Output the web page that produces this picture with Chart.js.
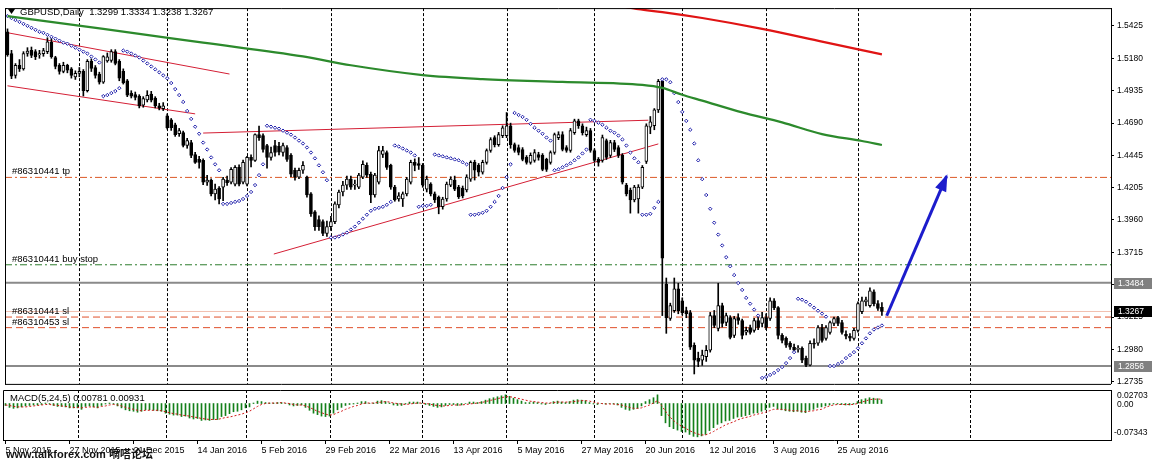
<!DOCTYPE html>
<html>
<head>
<meta charset="utf-8">
<script src="https://cdn.jsdelivr.net/npm/chart.js@4.4.1/dist/chart.umd.min.js"></script>
<style>
  html, body { margin: 0; padding: 0; background: #fff; }
  #wrap { position: relative; width: 1154px; height: 463px; overflow: hidden; background: #fff; }
  #main { position: absolute; left: 0; top: 0; }
  #macd { position: absolute; left: 0; top: 388px; }
</style>
</head>
<body>
<div id="wrap">
  <canvas id="main" width="1154" height="392"></canvas>
  <canvas id="macd" width="1154" height="75"></canvas>
</div>
<script>
// GBPUSD Daily, 5 Nov 2015 - 9 Sep 2016 (one bar per trading day, index 0..219)

const tickBars = [0, 16, 32, 48, 64, 80, 96, 112, 128, 144, 160, 176, 192, 208];
const tickLabels = ["5 Nov 2015", "27 Nov 2015", "21 Dec 2015", "14 Jan 2016", "5 Feb 2016", "29 Feb 2016",
  "22 Mar 2016", "13 Apr 2016", "5 May 2016", "27 May 2016", "20 Jun 2016", "12 Jul 2016", "3 Aug 2016", "25 Aug 2016"];
// first bar of each month (vertical grid)
const monthStartBars = [18, 40, 60, 81, 104, 125, 147, 169, 190, 213, 241];

const opens = [
  1.5380,1.5216,1.5051,1.5126,1.5100,1.5216,1.5240,1.5230,1.5205,1.5215,
  1.5230,1.5300,1.5186,1.5126,1.5081,1.5126,1.5100,1.5040,1.5066,1.5081,
  1.4935,1.5156,1.5110,1.5060,1.5000,1.5160,1.5163,1.5230,1.5156,1.5081,
  1.5010,1.4917,1.4905,1.4894,1.4825,1.4865,1.4910,1.4879,1.4820,1.4800,
  1.4745,1.4715,1.4678,1.4610,1.4618,1.4521,1.4543,1.4453,1.4416,1.4409,
  1.4244,1.4259,1.4155,1.4200,1.4207,1.4259,1.4244,1.4229,1.4356,1.4244,
  1.4229,1.4431,1.4409,1.4603,1.4596,1.4521,1.4431,1.4521,1.4515,1.4468,
  1.4506,1.4446,1.4334,1.4282,1.4334,1.4282,1.4155,1.4020,1.3961,1.3946,
  1.3856,1.3908,1.3946,1.4073,1.4170,1.4222,1.4267,1.4222,1.4207,1.4282,
  1.4371,1.4304,1.4147,1.4244,1.4453,1.4468,1.4371,1.4207,1.4117,1.4117,
  1.4155,1.4244,1.4394,1.4385,1.4371,1.4192,1.4229,1.4155,1.4132,1.4058,
  1.4117,1.4222,1.4259,1.4207,1.4200,1.4185,1.4267,1.4394,1.4371,1.4319,
  1.4394,1.4483,1.4581,1.4528,1.4596,1.4596,1.4670,1.4528,1.4506,1.4491,
  1.4431,1.4394,1.4409,1.4453,1.4446,1.4416,1.4394,1.4468,1.4581,1.4603,
  1.4506,1.4483,1.4618,1.4708,1.4670,1.4603,1.4633,1.4483,1.4416,1.4409,
  1.4558,1.4446,1.4543,1.4506,1.4446,1.4222,1.4185,1.4110,1.4117,1.4207,
  1.4400,1.4660,1.4670,1.4790,1.5006,1.3475,1.3214,1.3273,1.3438,1.3348,
  1.3273,1.3258,1.3012,1.2915,1.2900,1.2925,1.2974,1.3236,1.3140,1.3311,
  1.3184,1.3221,1.3087,1.3221,1.3199,1.3110,1.3146,1.3124,1.3199,1.3176,
  1.3221,1.3214,1.3348,1.3296,1.3087,1.3064,1.3027,1.2997,1.2980,1.2989,
  1.2915,1.2862,1.3027,1.3027,1.3146,1.3064,1.3109,1.3176,1.3221,1.3184,
  1.3095,1.3080,1.3064,1.3124,1.3265,1.3340,1.3311,1.3415,1.3326,1.3299
];
const highs = [
  1.5402,1.5240,1.5140,1.5170,1.5230,1.5260,1.5265,1.5245,1.5240,1.5255,
  1.5335,1.5330,1.5195,1.5140,1.5150,1.5135,1.5110,1.5085,1.5110,1.5095,
  1.5170,1.5175,1.5125,1.5075,1.5200,1.5220,1.5245,1.5245,1.5170,1.5100,
  1.5020,1.4935,1.4925,1.4905,1.4890,1.4935,1.4930,1.4890,1.4840,1.4845,
  1.4760,1.4725,1.4690,1.4650,1.4630,1.4575,1.4560,1.4470,1.4440,1.4420,
  1.4295,1.4270,1.4230,1.4210,1.4280,1.4290,1.4355,1.4370,1.4375,1.4410,
  1.4440,1.4450,1.4610,1.4668,1.4610,1.4530,1.4510,1.4560,1.4545,1.4540,
  1.4520,1.4460,1.4350,1.4350,1.4400,1.4290,1.4165,1.4030,1.3990,1.3960,
  1.3950,1.3985,1.4095,1.4185,1.4250,1.4290,1.4290,1.4260,1.4310,1.4405,
  1.4390,1.4320,1.4310,1.4515,1.4515,1.4480,1.4380,1.4220,1.4165,1.4170,
  1.4280,1.4410,1.4420,1.4430,1.4385,1.4290,1.4240,1.4170,1.4140,1.4130,
  1.4245,1.4285,1.4290,1.4220,1.4215,1.4300,1.4405,1.4410,1.4385,1.4410,
  1.4495,1.4580,1.4595,1.4620,1.4670,1.4770,1.4690,1.4540,1.4525,1.4505,
  1.4445,1.4465,1.4490,1.4470,1.4460,1.4425,1.4480,1.4615,1.4625,1.4625,
  1.4520,1.4650,1.4720,1.4720,1.4685,1.4660,1.4650,1.4495,1.4430,1.4600,
  1.4570,1.4560,1.4560,1.4520,1.4460,1.4235,1.4200,1.4220,1.4225,1.4370,
  1.4685,1.4740,1.4800,1.5020,1.5010,1.3520,1.3330,1.3520,1.3480,1.3370,
  1.3300,1.3275,1.3030,1.2960,1.2975,1.3010,1.3260,1.3275,1.3480,1.3330,
  1.3255,1.3235,1.3230,1.3250,1.3210,1.3150,1.3165,1.3215,1.3225,1.3260,
  1.3250,1.3370,1.3365,1.3305,1.3100,1.3075,1.3040,1.3020,1.3010,1.3000,
  1.2930,1.3045,1.3060,1.3160,1.3170,1.3160,1.3195,1.3225,1.3230,1.3200,
  1.3120,1.3100,1.3140,1.3340,1.3375,1.3375,1.3445,1.3430,1.3350,1.3334
];
const lows = [
  1.5195,1.5026,1.5030,1.5080,1.5090,1.5195,1.5185,1.5170,1.5180,1.5195,
  1.5215,1.5180,1.5100,1.5060,1.5070,1.5070,1.5030,1.5020,1.5040,1.4895,
  1.4925,1.5080,1.5030,1.4985,1.4990,1.5150,1.5150,1.5130,1.5010,1.4985,
  1.4890,1.4880,1.4865,1.4805,1.4810,1.4850,1.4850,1.4805,1.4790,1.4785,
  1.4645,1.4635,1.4590,1.4590,1.4510,1.4500,1.4430,1.4385,1.4350,1.4225,
  1.4220,1.4140,1.4110,1.4080,1.4105,1.4220,1.4230,1.4215,1.4215,1.4230,
  1.4215,1.4360,1.4400,1.4560,1.4470,1.4350,1.4410,1.4440,1.4450,1.4440,
  1.4400,1.4285,1.4260,1.4270,1.4310,1.4130,1.3985,1.3880,1.3880,1.3840,
  1.3835,1.3880,1.3930,1.4050,1.4140,1.4190,1.4190,1.4190,1.4195,1.4270,
  1.4280,1.4090,1.4130,1.4230,1.4430,1.4340,1.4190,1.4100,1.4100,1.4060,
  1.4140,1.4230,1.4330,1.4340,1.4205,1.4170,1.4140,1.4090,1.4005,1.4040,
  1.4100,1.4210,1.4180,1.4120,1.4125,1.4170,1.4250,1.4260,1.4290,1.4305,
  1.4380,1.4470,1.4510,1.4515,1.4580,1.4580,1.4500,1.4470,1.4450,1.4405,
  1.4380,1.4380,1.4395,1.4410,1.4330,1.4325,1.4380,1.4455,1.4565,1.4480,
  1.4470,1.4470,1.4605,1.4650,1.4600,1.4590,1.4470,1.4395,1.4365,1.4395,
  1.4415,1.4430,1.4475,1.4430,1.4230,1.4140,1.4010,1.4095,1.4010,1.4195,
  1.4385,1.4610,1.4640,1.4770,1.3236,1.3102,1.3200,1.3260,1.3250,1.3240,
  1.3220,1.2980,1.2795,1.2850,1.2860,1.2890,1.2960,1.3145,1.3120,1.3150,
  1.3160,1.3060,1.3070,1.3170,1.3060,1.3090,1.3095,1.3110,1.3130,1.3150,
  1.3130,1.3200,1.3280,1.3060,1.3030,1.2995,1.2980,1.2960,1.2960,1.2880,
  1.2850,1.2855,1.2990,1.3010,1.3035,1.3050,1.3095,1.3160,1.3160,1.3095,
  1.3060,1.3045,1.3050,1.3110,1.3250,1.3310,1.3300,1.3310,1.3275,1.3238
];
const closes = [
  1.5208,1.5044,1.5126,1.5100,1.5216,1.5235,1.5201,1.5193,1.5215,1.5238,
  1.5305,1.5193,1.5118,1.5081,1.5126,1.5090,1.5051,1.5066,1.5081,1.4935,
  1.5156,1.5103,1.5051,1.5000,1.5193,1.5190,1.5230,1.5141,1.5029,1.4993,
  1.4902,1.4894,1.4885,1.4820,1.4875,1.4900,1.4864,1.4820,1.4805,1.4820,
  1.4655,1.4655,1.4603,1.4633,1.4521,1.4558,1.4446,1.4394,1.4394,1.4244,
  1.4259,1.4155,1.4192,1.4117,1.4267,1.4240,1.4341,1.4356,1.4229,1.4394,
  1.4431,1.4409,1.4603,1.4581,1.4491,1.4431,1.4468,1.4468,1.4470,1.4521,
  1.4416,1.4304,1.4282,1.4334,1.4371,1.4147,1.4005,1.3908,1.3908,1.3856,
  1.3908,1.3946,1.4080,1.4170,1.4222,1.4267,1.4207,1.4229,1.4297,1.4379,
  1.4297,1.4147,1.4297,1.4483,1.4483,1.4356,1.4207,1.4110,1.4140,1.4155,
  1.4267,1.4394,1.4371,1.4371,1.4222,1.4267,1.4155,1.4110,1.4058,1.4117,
  1.4229,1.4267,1.4192,1.4132,1.4140,1.4282,1.4394,1.4334,1.4319,1.4394,
  1.4483,1.4566,1.4528,1.4603,1.4655,1.4670,1.4528,1.4483,1.4468,1.4416,
  1.4394,1.4446,1.4468,1.4431,1.4341,1.4341,1.4468,1.4603,1.4603,1.4491,
  1.4483,1.4633,1.4708,1.4670,1.4618,1.4633,1.4483,1.4409,1.4394,1.4581,
  1.4431,1.4543,1.4491,1.4446,1.4244,1.4155,1.4110,1.4207,1.4207,1.4356,
  1.4670,1.4700,1.4790,1.5006,1.3669,1.3221,1.3311,1.3438,1.3273,1.3258,
  1.3251,1.2997,1.2900,1.2890,1.2937,1.2974,1.3236,1.3161,1.3311,1.3176,
  1.3236,1.3072,1.3214,1.3199,1.3087,1.3124,1.3109,1.3199,1.3146,1.3221,
  1.3146,1.3348,1.3296,1.3087,1.3049,1.3012,1.2997,1.2974,1.2990,1.2900,
  1.2862,1.3027,1.3020,1.3146,1.3049,1.3146,1.3184,1.3214,1.3176,1.3109,
  1.3080,1.3065,1.3124,1.3326,1.3348,1.3355,1.3423,1.3326,1.3290,1.3267
];

// Parabolic SAR, one value per bar
const sar = [
  1.5499,1.5484,1.5469,1.5455,1.5440,1.5425,1.5410,1.5395,1.5380,1.5372,
  1.5357,1.5342,1.5328,1.5313,1.5298,1.5290,1.5275,1.5260,1.5245,1.5230,
  1.5216,1.5193,1.5171,1.5148,1.4894,1.4902,1.4917,1.4932,1.4954,1.5238,
  1.5230,1.5216,1.5201,1.5186,1.5163,1.5141,1.5118,1.5096,1.5074,1.5051,
  1.5029,1.4993,1.4947,1.4902,1.4850,1.4782,1.4722,1.4663,1.4610,1.4543,
  1.4491,1.4431,1.4379,1.4334,1.4080,1.4080,1.4087,1.4095,1.4102,1.4117,
  1.4140,1.4170,1.4222,1.4297,1.4379,1.4670,1.4663,1.4655,1.4648,1.4633,
  1.4618,1.4603,1.4581,1.4558,1.4536,1.4506,1.4468,1.4424,1.4371,1.4319,
  1.4259,1.3826,1.3826,1.3834,1.3849,1.3863,1.3886,1.3908,1.3938,1.3968,
  1.3998,1.4028,1.4043,1.4050,1.4058,1.4073,1.4095,1.4521,1.4513,1.4498,
  1.4483,1.4468,1.4446,1.4058,1.4065,1.4065,1.4073,1.4453,1.4446,1.4439,
  1.4431,1.4424,1.4416,1.4409,1.4394,1.4379,1.3998,1.3998,1.4005,1.4013,
  1.4028,1.4058,1.4095,1.4140,1.4200,1.4282,1.4379,1.4767,1.4752,1.4737,
  1.4715,1.4685,1.4655,1.4633,1.4610,1.4581,1.4558,1.4334,1.4341,1.4356,
  1.4371,1.4386,1.4409,1.4431,1.4461,1.4491,1.4715,1.4707,1.4693,1.4678,
  1.4655,1.4633,1.4618,1.4596,1.4566,1.4521,1.4468,1.4424,1.4394,1.3998,
  1.3998,1.4005,1.4050,1.4095,1.5021,1.5021,1.4999,1.4917,1.4849,1.4775,
  1.4707,1.4640,1.4536,1.4409,1.4267,1.4147,1.4043,1.3938,1.3848,1.3766,
  1.3677,1.3609,1.3542,1.3482,1.3430,1.3370,1.3326,1.3281,1.3236,1.2765,
  1.2773,1.2788,1.2803,1.2825,1.2847,1.2877,1.2915,1.2960,1.3363,1.3356,
  1.3341,1.3318,1.3296,1.3273,1.3251,1.3228,1.2855,1.2855,1.2870,1.2885,
  1.2915,1.2937,1.2960,1.2989,1.3027,1.3064,1.3102,1.3131,1.3146,1.3161
];

// MACD(5,24,5): main (histogram) and signal
const macdMain = [
  -0.004,-0.008,-0.010,-0.009,-0.007,-0.005,-0.004,-0.003,-0.003,-0.002,
  0.001,-0.001,-0.004,-0.006,-0.006,-0.007,-0.009,-0.009,-0.009,-0.012,
  -0.006,-0.005,-0.007,-0.009,-0.004,-0.001,0.001,-0.001,-0.005,-0.009,
  -0.013,-0.015,-0.016,-0.018,-0.016,-0.013,-0.013,-0.014,-0.015,-0.016,
  -0.020,-0.022,-0.024,-0.024,-0.027,-0.026,-0.030,-0.032,-0.031,-0.035,
  -0.034,-0.035,-0.033,-0.033,-0.027,-0.025,-0.021,-0.017,-0.016,-0.013,
  -0.009,-0.007,0.001,0.005,0.004,0.002,0.001,0.001,0.002,0.002,
  0.000,-0.003,-0.005,-0.004,-0.003,-0.008,-0.014,-0.020,-0.023,-0.026,
  -0.027,-0.026,-0.020,-0.013,-0.008,-0.004,-0.002,-0.001,0.001,0.004,
  0.004,0.000,0.001,0.005,0.006,0.004,0.001,-0.003,-0.004,-0.004,
  -0.001,0.003,0.003,0.003,0.000,-0.002,-0.004,-0.006,-0.008,-0.007,
  -0.004,-0.002,-0.002,-0.004,-0.003,0.000,0.003,0.003,0.002,0.004,
  0.007,0.010,0.012,0.014,0.016,0.018,0.015,0.011,0.008,0.005,
  0.002,0.002,0.003,0.002,-0.001,-0.002,0.000,0.004,0.005,0.003,
  0.002,0.004,0.007,0.008,0.007,0.006,0.002,-0.001,-0.002,0.000,
  -0.001,0.000,-0.001,-0.003,-0.008,-0.012,-0.014,-0.012,-0.010,-0.005,
  0.004,0.008,0.012,0.018,-0.025,-0.040,-0.048,-0.052,-0.055,-0.058,
  -0.059,-0.064,-0.068,-0.069,-0.067,-0.064,-0.056,-0.050,-0.043,-0.040,
  -0.036,-0.035,-0.031,-0.028,-0.027,-0.025,-0.023,-0.020,-0.019,-0.016,
  -0.013,-0.008,-0.006,-0.011,-0.013,-0.015,-0.016,-0.017,-0.016,-0.018,
  -0.019,-0.014,-0.012,-0.008,-0.007,-0.005,-0.003,-0.001,-0.001,-0.002,
  -0.003,-0.003,-0.001,0.004,0.008,0.010,0.012,0.011,0.010,0.0078
];
const macdSignal = [
  -0.003,-0.004,-0.006,-0.007,-0.007,-0.007,-0.006,-0.005,-0.004,-0.003,
  -0.002,-0.002,-0.003,-0.004,-0.005,-0.006,-0.007,-0.008,-0.008,-0.009,
  -0.008,-0.007,-0.007,-0.008,-0.006,-0.005,-0.003,-0.002,-0.003,-0.005,
  -0.008,-0.010,-0.012,-0.014,-0.015,-0.014,-0.014,-0.014,-0.014,-0.015,
  -0.017,-0.019,-0.021,-0.022,-0.024,-0.025,-0.026,-0.028,-0.029,-0.031,
  -0.032,-0.033,-0.033,-0.033,-0.031,-0.029,-0.028,-0.026,-0.024,-0.022,
  -0.019,-0.016,-0.011,-0.006,-0.002,0.000,0.001,0.001,0.001,0.002,
  0.001,0.000,-0.002,-0.003,-0.003,-0.005,-0.008,-0.012,-0.016,-0.019,
  -0.022,-0.024,-0.023,-0.019,-0.016,-0.012,-0.009,-0.006,-0.004,-0.001,
  0.001,0.001,0.001,0.002,0.003,0.004,0.003,0.001,0.000,-0.001,
  -0.002,-0.001,0.000,0.001,0.001,0.000,-0.001,-0.003,-0.004,-0.005,
  -0.005,-0.004,-0.003,-0.003,-0.003,-0.002,-0.001,0.000,0.001,0.002,
  0.004,0.006,0.008,0.010,0.012,0.014,0.014,0.013,0.011,0.009,
  0.007,0.005,0.004,0.003,0.002,0.001,0.001,0.002,0.003,0.003,
  0.003,0.003,0.004,0.005,0.006,0.006,0.005,0.003,0.001,0.000,
  -0.001,-0.001,-0.001,-0.002,-0.003,-0.006,-0.008,-0.010,-0.010,-0.009,
  -0.006,-0.003,0.001,0.006,-0.004,-0.016,-0.027,-0.035,-0.042,-0.047,
  -0.051,-0.056,-0.060,-0.063,-0.065,-0.065,-0.062,-0.058,-0.053,-0.049,
  -0.044,-0.041,-0.038,-0.034,-0.031,-0.029,-0.027,-0.024,-0.022,-0.020,
  -0.018,-0.015,-0.012,-0.012,-0.012,-0.013,-0.014,-0.015,-0.015,-0.016,
  -0.017,-0.016,-0.015,-0.013,-0.012,-0.008,-0.005,-0.003,-0.002,-0.002,
  -0.002,-0.002,-0.002,0.000,0.003,0.005,0.008,0.009,0.009,0.0093
];

// moving averages (bar index, value)
const greenMaBars = [0, 24, 49, 74, 86, 104, 119, 139, 159, 164, 169, 174, 184, 194, 204, 214, 219];
const greenMaValues = [1.5499, 1.5402, 1.5298, 1.5194, 1.5127, 1.5053, 1.5023, 1.5001, 1.4979, 1.4956,
  1.4904, 1.4860, 1.4771, 1.4696, 1.4607, 1.4555, 1.4525];
const redMaBars = [154, 158, 164, 174, 189, 204, 219];
const redMaValues = [1.5572, 1.5551, 1.5529, 1.5484, 1.5402, 1.5306, 1.5209];

// trend lines: [barA, priceA, barB, priceB]
const trendLines = [
  [0, 1.5373, 55.6, 1.5061],
  [0, 1.4972, 47, 1.4760],
  [49, 1.4615, 160.5, 1.4712],
  [66.7, 1.3701, 163, 1.4533]
];
const arrowFrom = [220.2, 1.3235];
const arrowTo = [235.2, 1.4290];

// order levels
const tpLevel = 1.4280, buyStopLevel = 1.3620, bidLevel = 1.3267;
const slLevels = [1.3225, 1.3145];
const grayLevels = [1.3484, 1.2856];
const priceTicks = [1.5425, 1.5180, 1.4935, 1.4690, 1.4445, 1.4205, 1.3960, 1.3715, 1.3470, 1.3225, 1.2980, 1.2735];
const macdLabels = ["0.02703", "0.00", "-0.07343"];

const FONT = "'Liberation Sans', Arial, sans-serif";
const X_MIN = -0.625, X_MAX = 276.375;
const P_MIN = 1.2720, P_MAX = 1.5559;
const M_MIN = -0.0755, M_MAX = 0.028;

function hline(v, color, dash, width) {
  return { type: "line", data: [{ x: X_MIN, y: v }, { x: X_MAX, y: v }], borderColor: color,
    borderWidth: width || 1, borderDash: dash || [], pointRadius: 0, order: 10 };
}

function vGrid(chart) {
  const { ctx, chartArea, scales } = chart;
  ctx.save();
  ctx.strokeStyle = "#000";
  ctx.lineWidth = 1;
  ctx.setLineDash([3, 2]);
  monthStartBars.forEach(b => {
    const x = Math.round(scales.x.getPixelForValue(b)) + 0.5;
    ctx.beginPath();
    ctx.moveTo(x, chartArea.top);
    ctx.lineTo(x, chartArea.bottom);
    ctx.stroke();
  });
  ctx.restore();
}

const mainDecor = {
  id: "mainDecor",
  beforeDatasetsDraw(chart) { vGrid(chart); },
  afterDatasetsDraw(chart) {
    const { ctx, scales } = chart;
    const xs = scales.x, ys = scales.y;
    // arrow head
    const x0 = xs.getPixelForValue(arrowFrom[0]), y0 = ys.getPixelForValue(arrowFrom[1]);
    const x1 = xs.getPixelForValue(arrowTo[0]), y1 = ys.getPixelForValue(arrowTo[1]);
    const a = Math.atan2(y1 - y0, x1 - x0);
    ctx.save();
    ctx.fillStyle = "#1c1ccc";
    ctx.beginPath();
    ctx.moveTo(x1 + 2 * Math.cos(a), y1 + 2 * Math.sin(a));
    ctx.lineTo(x1 - 15 * Math.cos(a) + 6 * Math.sin(a), y1 - 15 * Math.sin(a) - 6 * Math.cos(a));
    ctx.lineTo(x1 - 15 * Math.cos(a) - 6 * Math.sin(a), y1 - 15 * Math.sin(a) + 6 * Math.cos(a));
    ctx.closePath();
    ctx.fill();

    // level captions
    ctx.fillStyle = "#000";
    ctx.font = "9.5px " + FONT;
    ctx.textBaseline = "bottom";
    ctx.fillText("#86310441 tp", 12, ys.getPixelForValue(tpLevel) - 1);
    ctx.fillText("#86310441 buy stop", 12, ys.getPixelForValue(buyStopLevel) - 1);
    ctx.fillText("#86310441 sl", 12, ys.getPixelForValue(slLevels[0]) - 1);
    ctx.fillText("#86310453 sl", 12, ys.getPixelForValue(slLevels[1]) - 1);

    // header
    ctx.textBaseline = "middle";
    ctx.fillText("GBPUSD,Daily  1.3299 1.3334 1.3238 1.3267", 20, 12);
    ctx.beginPath();
    ctx.moveTo(8, 9); ctx.lineTo(15, 9); ctx.lineTo(11.5, 14); ctx.closePath();
    ctx.fill();
    ctx.fillRect(5, 8, 2, 1);
    ctx.restore();
  },
  afterDraw(chart) {
    const { ctx, chartArea, scales } = chart;
    ctx.save();
    ctx.strokeStyle = "#000";
    ctx.lineWidth = 1;
    ctx.beginPath();
    ctx.moveTo(chartArea.left + 0.5, chartArea.bottom + 0.5);
    ctx.lineTo(chartArea.left + 0.5, chartArea.top + 0.5);
    ctx.lineTo(chartArea.right, chartArea.top + 0.5);
    ctx.moveTo(chartArea.left, chartArea.bottom + 0.5);
    ctx.lineTo(chartArea.right, chartArea.bottom + 0.5);
    ctx.stroke();
    // price boxes on the axis
    const boxes = [[grayLevels[0], "#808080"], [bidLevel, "#000000"], [grayLevels[1], "#808080"]];
    ctx.font = "8.5px " + FONT;
    ctx.textBaseline = "middle";
    boxes.forEach(([v, c]) => {
      const y = Math.round(scales.y.getPixelForValue(v));
      ctx.fillStyle = c;
      ctx.fillRect(1114, y - 5, 38, 11);
      ctx.fillStyle = "#fff";
      ctx.fillText(v.toFixed(4), 1118, y + 0.5);
    });
    ctx.restore();
  }
};

const macdDecor = {
  id: "macdDecor",
  beforeDatasetsDraw(chart) { vGrid(chart); },
  afterDraw(chart) {
    const { ctx, chartArea, scales } = chart;
    ctx.save();
    ctx.strokeStyle = "#000";
    ctx.lineWidth = 1;
    ctx.beginPath();
    ctx.moveTo(chartArea.left + 0.5, chartArea.bottom);
    ctx.lineTo(chartArea.left + 0.5, chartArea.top + 0.5);
    ctx.lineTo(chartArea.right, chartArea.top + 0.5);
    ctx.stroke();
    ctx.fillStyle = "#000";
    ctx.font = "9.5px " + FONT;
    ctx.textBaseline = "middle";
    ctx.fillText("MACD(5,24,5) 0.00781 0.00931", 10, chartArea.top + 8);
    ctx.font = "8.5px " + FONT;
    ctx.fillText(macdLabels[0], 1117, chartArea.top + 6);
    ctx.fillText(macdLabels[1], 1117, scales.y.getPixelForValue(0) + 1);
    ctx.fillText(macdLabels[2], 1114, chartArea.bottom - 7);
    // watermark
    ctx.font = "bold 11px 'Liberation Sans', 'Noto Sans CJK SC', sans-serif";
    ctx.fillStyle = "#111";
    ctx.fillText("www.talkforex.com 嘀嗒论坛", 6, 67);
    ctx.restore();
  }
};

// ---------- main price chart ----------
const bodyColors = closes.map((c, i) => (c >= opens[i] ? "#ffffff" : "#000000"));

new Chart(document.getElementById("main"), {
  type: "bar",
  data: {
    datasets: [
      { type: "line", data: sar.map((v, i) => ({ x: i, y: v })), showLine: false, pointStyle: "rectRot",
        pointRadius: 1.7, pointBorderWidth: 1, pointBorderColor: "#1e1eaa", pointBackgroundColor: "#ffffff", order: 3 },
      { data: opens.map((o, i) => ({ x: i, y: [Math.min(o, closes[i]), Math.max(o, closes[i])] })),
        backgroundColor: bodyColors, borderColor: "#000", borderWidth: 1, borderSkipped: false,
        barThickness: 3, minBarLength: 1, grouped: false, order: 4 },
      { data: lows.map((l, i) => ({ x: i, y: [l, highs[i]] })), backgroundColor: "#000",
        barThickness: 1, grouped: false, order: 5 },
      { type: "line", data: greenMaBars.map((b, k) => ({ x: b, y: greenMaValues[k] })), borderColor: "#2c8a2c",
        borderWidth: 2.2, pointRadius: 0, cubicInterpolationMode: "monotone", order: 2 },
      { type: "line", data: redMaBars.map((b, k) => ({ x: b, y: redMaValues[k] })), borderColor: "#e01414",
        borderWidth: 2.2, pointRadius: 0, cubicInterpolationMode: "monotone", order: 2 },
      ...trendLines.map(t => ({ type: "line", data: [{ x: t[0], y: t[1] }, { x: t[2], y: t[3] }],
        borderColor: "#d41f35", borderWidth: 1, pointRadius: 0, order: 6 })),
      { type: "line", data: [{ x: arrowFrom[0], y: arrowFrom[1] }, { x: arrowTo[0], y: arrowTo[1] }],
        borderColor: "#1c1ccc", borderWidth: 3, pointRadius: 0, order: 1 },
      hline(tpLevel, "#dc5a28", [7, 3, 2, 3]),
      hline(buyStopLevel, "#2e7d2e", [7, 3, 2, 3]),
      hline(bidLevel, "#f2c0b0", []),
      hline(slLevels[0], "#e0502a", [7, 4]),
      hline(slLevels[1], "#e0502a", [7, 4]),
      hline(grayLevels[0], "#8a8a8a", [], 2),
      hline(grayLevels[1], "#8a8a8a", [], 2)
    ]
  },
  options: {
    responsive: false,
    animation: false,
    events: [],
    layout: { padding: { left: 3, top: 4, right: 0, bottom: 6 } },
    plugins: { legend: { display: false }, tooltip: { enabled: false } },
    scales: {
      x: { type: "linear", display: false, min: X_MIN, max: X_MAX, offset: false, bounds: "data", grid: { offset: false } },
      y: {
        position: "right", min: P_MIN, max: P_MAX, bounds: "data",
        afterFit(s) { s.width = 43; },
        afterBuildTicks(s) { s.ticks = priceTicks.map(v => ({ value: v })); },
        ticks: { autoSkip: false, callback: v => v.toFixed(4), font: { family: FONT, size: 8.5 }, color: "#000", padding: 3 },
        grid: { drawOnChartArea: false, tickLength: 3, color: "#000" },
        border: { color: "#000" }
      }
    }
  },
  plugins: [mainDecor]
});

// ---------- MACD window ----------
new Chart(document.getElementById("macd"), {
  type: "bar",
  data: {
    datasets: [
      { type: "line", data: macdSignal.map((v, i) => ({ x: i, y: v })), borderColor: "#d01818", borderWidth: 1,
        borderDash: [2, 2], pointRadius: 0, order: 1 },
      { data: macdMain.map((v, i) => ({ x: i, y: v })), backgroundColor: "#13801a", barThickness: 1, grouped: false, order: 2 }
    ]
  },
  options: {
    responsive: false,
    animation: false,
    events: [],
    layout: { padding: { left: 3, top: 2, right: 0, bottom: 0 } },
    plugins: { legend: { display: false }, tooltip: { enabled: false } },
    scales: {
      x: {
        type: "linear", min: X_MIN, max: X_MAX, offset: false, bounds: "data",
        afterFit(s) { s.height = 23; },
        afterBuildTicks(s) { s.ticks = tickBars.map(v => ({ value: v })); },
        ticks: { autoSkip: false, maxRotation: 0, minRotation: 0, align: "start", padding: 1,
          font: { family: FONT, size: 9 }, color: "#000", callback: (v, i) => tickLabels[i] },
        grid: { drawOnChartArea: false, tickLength: 4, color: "#000", offset: false },
        border: { color: "#000" }
      },
      y: {
        position: "right", min: M_MIN, max: M_MAX, bounds: "data",
        afterFit(s) { s.width = 43; },
        ticks: { display: false }, grid: { display: false }, border: { color: "#000" }
      }
    }
  },
  plugins: [macdDecor]
});
</script>
</body>
</html>
